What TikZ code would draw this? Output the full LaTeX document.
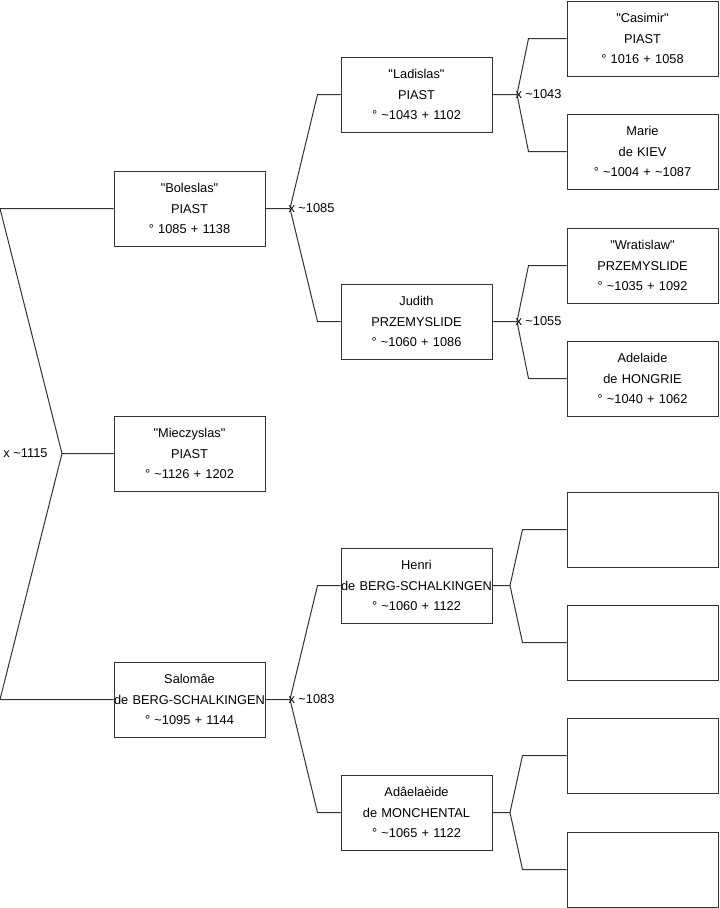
\documentclass[tikz,border=0pt]{standalone}
\usepackage{fontspec}
\setmainfont{Liberation Sans}[Ligatures=TeXOff]
\usetikzlibrary{positioning}
\begin{document}
\begin{tikzpicture}[x=0.75pt,y=-0.75pt,line width=0.75pt,font=\fontsize{9.6}{15.5}\selectfont,
 person/.style={draw=black!80,minimum width=113.25pt,minimum height=56.25pt,text width=105pt,align=center,inner sep=0pt},
 link/.style={draw=black!80},
 wed/.style={anchor=west,inner sep=0pt}]
\path[use as bounding box,fill=white] (0,0) rectangle (719,908);
\node[person] (bol) at (189.5,208.5) {"Boleslas"\\PIAST\\° 1085 + 1138};
\node[person] (mie) at (189.5,453.5) {"Mieczyslas"\\PIAST\\° \textasciitilde1126 + 1202};
\node[person] (sal) at (189.5,699.5) {Salomâe\\\makebox[\linewidth]{de BERG-SCHALKINGEN}\\° \textasciitilde1095 + 1144};
\node[person] (lad) at (416.5,94.5) {"Ladislas"\\PIAST\\° \textasciitilde1043 + 1102};
\node[person] (jud) at (416.5,321.5) {Judith\\PRZEMYSLIDE\\° \textasciitilde1060 + 1086};
\node[person] (hen) at (416.5,585.5) {Henri\\\makebox[\linewidth]{de BERG-SCHALKINGEN}\\° \textasciitilde1060 + 1122};
\node[person] (ade) at (416.5,812.5) {Adâelaèide\\de MONCHENTAL\\° \textasciitilde1065 + 1122};
\node[person] (cas) at (642.5,38.5) {"Casimir"\\PIAST\\° 1016 + 1058};
\node[person] (mar) at (642.5,151.5) {Marie\\de KIEV\\° \textasciitilde1004 + \textasciitilde1087};
\node[person] (wra) at (642.5,265.5) {"Wratislaw"\\PRZEMYSLIDE\\° \textasciitilde1035 + 1092};
\node[person] (adl) at (642.5,378.5) {Adelaide\\de HONGRIE\\° \textasciitilde1040 + 1062};
\node[person] (e1) at (642.5,529.5) {};
\node[person] (e2) at (642.5,642.5) {};
\node[person] (e3) at (642.5,755.5) {};
\node[person] (e4) at (642.5,869.5) {};
\coordinate (m0) at (62,453.5);
\coordinate (m1) at (290,208.5);
\coordinate (m2) at (290,699.5);
\coordinate (m3) at (517,94.5);
\coordinate (m4) at (517,321.5);
\coordinate (m5) at (510,585.5);
\coordinate (m6) at (510,812.5);
\draw[link] (mie.west) -- (m0) -- (0,208.5) -- (bol.west) (m0) -- (0,699.5) -- (sal.west);
\foreach \c/\m/\a/\b/\d in {bol/m1/lad/jud/23,sal/m2/hen/ade/23,lad/m3/cas/mar/38,jud/m4/wra/adl/38,hen/m5/e1/e2/44,ade/m6/e3/e4/44}
  \draw[link] (\c.east) -- (\m) (\a.west) -- ++(-\d,0) -- (\m) (\b.west) -- ++(-\d,0) -- (\m);
\node[wed] (w0) at (3,453.5) {x \textasciitilde1115};
\node[wed] (w1) at ([xshift=-1.5pt]m1) {x \textasciitilde1085};
\node[wed] (w2) at ([xshift=-1.5pt]m2) {x \textasciitilde1083};
\node[wed] (w3) at ([xshift=-1.5pt]m3) {x \textasciitilde1043};
\node[wed] (w4) at ([xshift=-1.5pt]m4) {x \textasciitilde1055};
\end{tikzpicture}
\end{document}
